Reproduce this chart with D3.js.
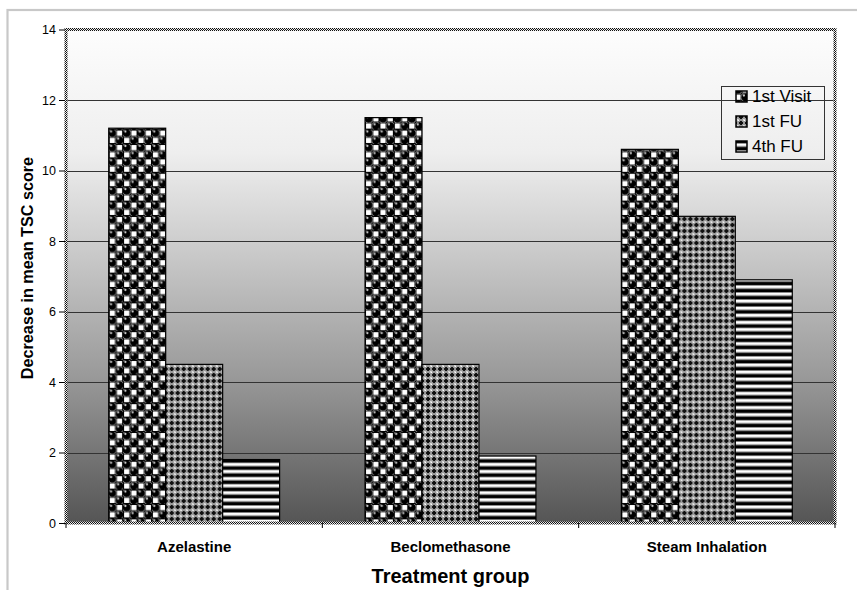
<!DOCTYPE html>
<html><head><meta charset="utf-8">
<script src="https://cdn.jsdelivr.net/npm/d3@7"></script>
<style>body{margin:0;background:#fff}svg{display:block;font-family:Arial,"Liberation Sans",sans-serif}</style>
</head><body>
<script>
const categories = ["Azelastine", "Beclomethasone", "Steam Inhalation"];
const seriesNames = ["1st Visit", "1st FU", "4th FU"];
const visit1 = [11.2, 11.5, 10.6];
const fu1 = [4.5, 4.5, 8.7];
const fu4 = [1.8, 1.9, 6.9];
const yTicks = [0, 2, 4, 6, 8, 10, 12, 14];
const seriesValues = [visit1, fu1, fu4];

const W = 857, H = 590;
const m = {l: 66, t: 29.5, r: 835, b: 523};
const svg = d3.select("body").append("svg").attr("width", W).attr("height", H);
const defs = svg.append("defs");

// background gradient
const g = defs.append("linearGradient").attr("id","bg").attr("x1",0).attr("y1",0).attr("x2",0).attr("y2",1);
[[0,"#fdfdfd"],[0.25,"#eeeeee"],[0.45,"#cacaca"],[0.7,"#9a9a9a"],[0.9,"#6c6c6c"],[1,"#555555"]]
  .forEach(([o,c])=>g.append("stop").attr("offset",o).attr("stop-color",c));

// checker for plot border
const ck = defs.append("pattern").attr("id","ck").attr("width",2).attr("height",2).attr("patternUnits","userSpaceOnUse");
ck.append("rect").attr("width",2).attr("height",2).attr("fill","#eee");
ck.append("rect").attr("width",1).attr("height",1).attr("fill","#111");
ck.append("rect").attr("x",1).attr("y",1).attr("width",1).attr("height",1).attr("fill","#111");

// sphere pattern (black balls on a checker of white squares)
const s = 14.4;
const p1 = defs.append("pattern").attr("id","p1").attr("width",s).attr("height",s).attr("patternUnits","userSpaceOnUse");
p1.append("rect").attr("width",s).attr("height",s).attr("fill","#000");
[[3*s/4,s/4],[s/4,3*s/4]].forEach(([cx,cy])=>{
  p1.append("rect").attr("x",cx-2.6).attr("y",cy-2.6).attr("width",5.2).attr("height",5.2).attr("fill","#fff");
});
[[s/4,s/4],[3*s/4,3*s/4]].forEach(([cx,cy])=>{
  p1.append("circle").attr("cx",cx).attr("cy",cy).attr("r",4.3).attr("fill","#000").attr("stroke","#999").attr("stroke-width",0.9);
  p1.append("circle").attr("cx",cx-1.3).attr("cy",cy-1.7).attr("r",1.1).attr("fill","#ccc");
});

// 1st FU pattern
const p2 = defs.append("pattern").attr("id","p2").attr("width",6).attr("height",6).attr("patternUnits","userSpaceOnUse");
p2.append("rect").attr("width",6).attr("height",6).attr("fill","#9a9a9a");
p2.append("rect").attr("x",2).attr("y",1).attr("width",2).attr("height",4).attr("fill","#111");
p2.append("rect").attr("x",1).attr("y",2).attr("width",4).attr("height",2).attr("fill","#111");
p2.append("rect").attr("x",0).attr("y",0).attr("width",1).attr("height",1).attr("fill","#fff");
p2.append("rect").attr("x",5).attr("y",5).attr("width",1).attr("height",1).attr("fill","#ddd");
p2.append("rect").attr("x",5).attr("y",0).attr("width",1).attr("height",1).attr("fill","#ccc");
p2.append("rect").attr("x",0).attr("y",5).attr("width",1).attr("height",1).attr("fill","#ccc");

// stripes
const p3 = defs.append("pattern").attr("id","p3").attr("width",8).attr("height",7.1).attr("patternUnits","userSpaceOnUse");
p3.append("rect").attr("width",8).attr("height",7.1).attr("fill","#000");
p3.append("rect").attr("y",0.9).attr("width",8).attr("height",0.8).attr("fill","#888");
p3.append("rect").attr("y",1.7).attr("width",8).attr("height",2.6).attr("fill","#fff");
p3.append("rect").attr("y",4.3).attr("width",8).attr("height",0.8).attr("fill","#888");

const fills = ["url(#p1)","url(#p2)","url(#p3)"];

// outer frame
svg.append("rect").attr("x",7.5).attr("y",10).attr("width",1000).attr("height",1000)
  .attr("fill","none").attr("stroke","#c8c8c8").attr("stroke-width",2.2);

const x0 = d3.scaleBand().domain(categories).range([m.l, m.r]).paddingInner(0).paddingOuter(0);
const y = d3.scaleLinear().domain([0,14]).range([m.b, m.t]);
// Excel gap width 150%: bar = band / 4.5
const bw = x0.bandwidth()/4.5;
const x1 = d3.scaleBand().domain(seriesNames).range([0, bw*3]);

svg.append("rect").attr("x",m.l).attr("y",m.t).attr("width",m.r-m.l).attr("height",m.b-m.t).attr("fill","url(#bg)");

// gridlines
svg.append("g").selectAll("line").data(yTicks.filter(d=>d>0 && d<14)).join("line")
  .attr("x1",m.l).attr("x2",m.r).attr("y1",d=>Math.round(y(d))+0.5).attr("y2",d=>Math.round(y(d))+0.5)
  .attr("stroke","#333").attr("stroke-width",1.2);

// bars
const grp = svg.append("g").selectAll("g").data(categories).join("g")
  .attr("transform",c=>`translate(${x0(c)+ (x0.bandwidth()-bw*3)/2},0)`);
grp.selectAll("rect").data((c,i)=>seriesNames.map((sn,j)=>({sn,j,v:seriesValues[j][i]}))).join("rect")
  .attr("x",d=>x1(d.sn)).attr("width",x1.bandwidth())
  .attr("y",d=>y(d.v)).attr("height",d=>y(0)-y(d.v))
  .attr("fill",d=>fills[d.j]).attr("stroke","#000").attr("stroke-width",1.2);

// plot border
svg.append("rect").attr("x",m.l).attr("y",m.t).attr("width",m.r-m.l).attr("height",m.b-m.t)
  .attr("fill","none").attr("stroke","url(#ck)").attr("stroke-width",3);

// y axis
const ya = d3.axisLeft(y).tickValues(yTicks).tickSize(6).tickPadding(3);
const yg = svg.append("g").attr("transform",`translate(${m.l-1},0)`).call(ya);
yg.select(".domain").remove();
yg.selectAll("line").attr("stroke","#000");
yg.selectAll("text").attr("font-size","12.5px").attr("fill","#000").attr("font-family","Arial, 'Liberation Sans', sans-serif");

// x axis ticks at category boundaries
const bounds = categories.map(c=>x0(c)).concat([m.r]);
svg.append("g").selectAll("line").data(bounds).join("line")
  .attr("x1",d=>d).attr("x2",d=>d).attr("y1",m.b).attr("y2",m.b+5).attr("stroke","#000");
svg.append("g").selectAll("text").data(categories).join("text")
  .attr("x",c=>x0(c)+x0.bandwidth()/2).attr("y",552).attr("text-anchor","middle")
  .attr("font-size","15px").attr("font-weight","bold").text(c=>c);

svg.append("text").attr("x",(m.l+m.r)/2).attr("y",583).attr("text-anchor","middle")
  .attr("font-size","20px").attr("font-weight","bold").text("Treatment group");

svg.append("text").attr("transform","translate(33,268) rotate(-90)").attr("text-anchor","middle")
  .attr("font-size","16.2px").attr("font-weight","bold").text("Decrease in mean TSC score");

// legend
const lg = svg.append("g");
lg.append("rect").attr("x",721.5).attr("y",86.5).attr("width",103).attr("height",73)
  .attr("fill","none").attr("stroke","#333").attr("stroke-width",1);
seriesNames.forEach((n,i)=>{
  const by = 102 + i*25;
  lg.append("rect").attr("x",736).attr("y",by-11).attr("width",11).attr("height",11)
    .attr("fill",fills[i]).attr("stroke","#000").attr("stroke-width",1.5);
  lg.append("text").attr("x",752).attr("y",by).attr("font-size","17px").text(n);
});
</script>
</body></html>
